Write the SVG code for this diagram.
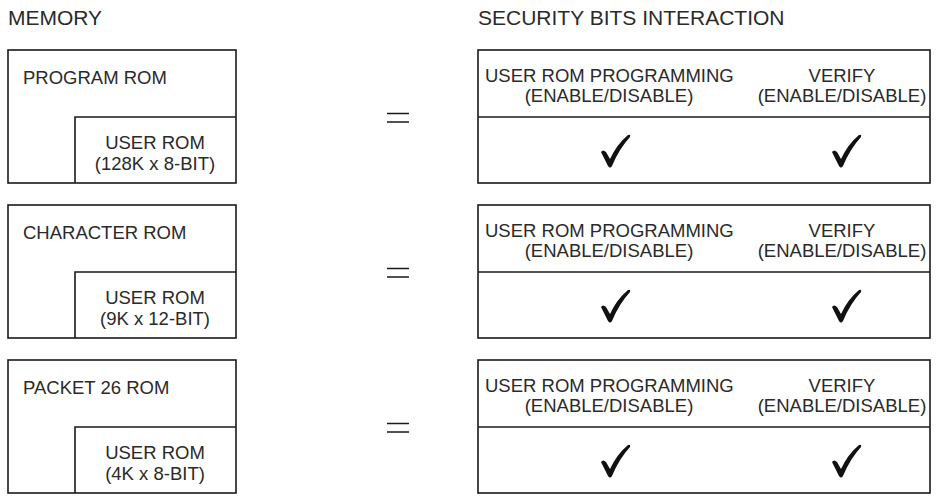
<svg xmlns="http://www.w3.org/2000/svg" width="936" height="497" viewBox="0 0 936 497">
<defs>
<style>
text{font-family:"Liberation Sans",Arial,sans-serif;font-size:18.5px;fill:#2a2a2a}
.h{font-size:21px}
.c{text-anchor:middle}
.box{fill:none;stroke:#1a1a1a;stroke-width:1.6}
.eq{stroke:#1a1a1a;stroke-width:1.6}
.chk{fill:#111}
</style>
<path id="check" d="M-9,-1 Q-7,-4 -4,-1 L0,6 Q7,-9 18,-18 Q21,-19 20,-16 Q9,-4 2,13 Q0,16 -2,13 Z"/>
</defs>
<text class="h" x="8" y="25">MEMORY</text>
<text class="h" x="478" y="25">SECURITY BITS INTERACTION</text>

<g id="mem1">
<rect class="box" x="8" y="50" width="228" height="133"/>
<path class="box" d="M75,183 V117 H236"/>
<text x="23" y="84">PROGRAM ROM</text>
<text class="c" x="155" y="149">USER ROM</text>
<text class="c" x="155" y="170">(128K x 8-BIT)</text>
</g>
<g id="mem2">
<rect class="box" x="8" y="205" width="228" height="133"/>
<path class="box" d="M75,338 V272 H236"/>
<text x="23" y="239">CHARACTER ROM</text>
<text class="c" x="155" y="304">USER ROM</text>
<text class="c" x="155" y="325">(9K x 12-BIT)</text>
</g>
<g id="mem3">
<rect class="box" x="8" y="360" width="228" height="133"/>
<path class="box" d="M75,493 V427 H236"/>
<text x="23" y="394">PACKET 26 ROM</text>
<text class="c" x="155" y="459">USER ROM</text>
<text class="c" x="155" y="480">(4K x 8-BIT)</text>
</g>

<g id="eq">
<path class="eq" d="M387,113.5 H409 M387,122 H409"/>
<path class="eq" d="M387,268.5 H409 M387,277 H409"/>
<path class="eq" d="M387,423.5 H409 M387,432 H409"/>
</g>

<g id="sec1">
<rect class="box" x="478" y="50" width="452" height="133"/>
<path class="box" d="M478,117 H930"/>
<text x="485" y="82">USER ROM PROGRAMMING</text>
<text class="c" x="609" y="102">(ENABLE/DISABLE)</text>
<text class="c" x="842" y="82">VERIFY</text>
<text class="c" x="842" y="102">(ENABLE/DISABLE)</text>
<use href="#check" class="chk" x="610" y="153"/>
<use href="#check" class="chk" x="841" y="153"/>
</g>
<g id="sec2">
<rect class="box" x="478" y="205" width="452" height="133"/>
<path class="box" d="M478,272 H930"/>
<text x="485" y="237">USER ROM PROGRAMMING</text>
<text class="c" x="609" y="257">(ENABLE/DISABLE)</text>
<text class="c" x="842" y="237">VERIFY</text>
<text class="c" x="842" y="257">(ENABLE/DISABLE)</text>
<use href="#check" class="chk" x="610" y="308"/>
<use href="#check" class="chk" x="841" y="308"/>
</g>
<g id="sec3">
<rect class="box" x="478" y="360" width="452" height="133"/>
<path class="box" d="M478,427 H930"/>
<text x="485" y="392">USER ROM PROGRAMMING</text>
<text class="c" x="609" y="412">(ENABLE/DISABLE)</text>
<text class="c" x="842" y="392">VERIFY</text>
<text class="c" x="842" y="412">(ENABLE/DISABLE)</text>
<use href="#check" class="chk" x="610" y="463"/>
<use href="#check" class="chk" x="841" y="463"/>
</g>
</svg>
